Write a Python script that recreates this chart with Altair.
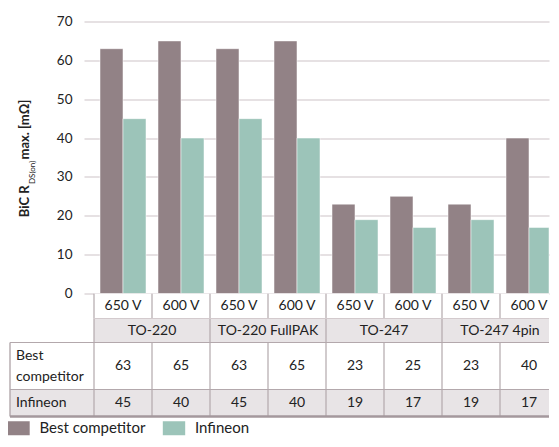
import altair as alt
import pandas as pd

# ---------------- data ----------------
packages = ["TO-220", "TO-220 FullPAK", "TO-247", "TO-247 4pin"]
voltages = ["650 V", "600 V"]
series = ["Best competitor", "Infineon"]
best_competitor = [63, 65, 63, 65, 23, 25, 23, 40]
infineon = [45, 40, 45, 40, 19, 17, 19, 17]
y_ticks = [0, 10, 20, 30, 40, 50, 60, 70]

# ---------------- style / layout ----------------
FONT = "Lato"
C_BEST = "#928286"
C_INF = "#9cc4b9"
GRID = "#e6e1e3"
LINE = "#b3a8ac"
LINE_LIGHT = "#d3cacd"
LINE_DARK = "#a4989d"
SHADE = "#e8e4e6"
TEXT = "#222222"

COL_PX = 58          # width of one table column in px
PLOT_W = 465
BAR_H = 272
TABLE_H = 125
X0_PX = 10           # first column starts 10px right of plot's left edge
x_dom = [-X0_PX / COL_PX, (PLOT_W - X0_PX) / COL_PX]
XMAX = x_dom[1]      # visible right edge (the last column is cut off here)
LBL = -84 / COL_PX   # left edge of the row-label column
BAR_W = 23 / COL_PX
LINE_H = 21
# table row edges (px from top of table panel)
R_VOLT = (0, 25)
R_PKG = (25, 49)
R_BEST = (49, 96)
R_INF = (96, 123)

n = len(best_competitor)
xs = alt.Scale(domain=x_dom, nice=False, zero=False)

# ---------------- bars ----------------
rows = []
for i in range(n):
    for s, vals in zip(series, [best_competitor, infineon]):
        start = i + 0.5 - BAR_W if s == series[0] else i + 0.5
        rows.append({"series": s, "value": vals[i], "x": start,
                     "x2": min(start + BAR_W, XMAX)})
bar_df = pd.DataFrame(rows)

bars = alt.Chart(bar_df).mark_bar(clip=True, stroke="#ffffff", strokeWidth=0.5).encode(
    x=alt.X("x:Q", scale=xs, axis=None),
    x2="x2:Q",
    y=alt.Y(
        "value:Q",
        scale=alt.Scale(domain=[0, 70], nice=False),
        axis=alt.Axis(values=y_ticks, title=None, ticks=False, domain=False,
                      gridColor=GRID, gridWidth=2, labelFont=FONT, labelFontSize=13.5,
                      labelColor=TEXT, labelPadding=12),
    ),
    y2=alt.datum(0),
    color=alt.Color(
        "series:N",
        scale=alt.Scale(domain=series, range=[C_BEST, C_INF]),
        legend=alt.Legend(
            title=None, orient="none", legendX=-73, legendY=399, direction="horizontal",
            symbolType="M-1.6,-1H1.6V1H-1.6Z", symbolSize=196, symbolStrokeWidth=0,
            labelFont=FONT, labelFontSize=15, labelColor=TEXT, labelOffset=13.5,
            columnPadding=16.5,
        ),
    ),
)

def title_part(txt, x, y, align, size, weight):
    return alt.Chart(pd.DataFrame({"t": [txt]})).mark_text(
        angle=270, align=align, baseline="middle", font=FONT, fontSize=size,
        fontWeight=weight, color=TEXT,
    ).encode(text="t:N", x=alt.value(x), y=alt.value(y))

t1 = title_part("BiC R", -59, 164, "right", 13, "bold")
t2 = title_part("DS(on)", -51.5, 162.5, "left", 8, "normal")
t3 = title_part("max. [mΩ]", -59, 138, "left", 13, "bold")

top = alt.layer(bars, t1, t2, t3).properties(width=PLOT_W, height=BAR_H)

# ---------------- table ----------------
cells = []
for i in range(n):
    cells.append({"x": i, "x2": i + 1, "y": R_VOLT[0], "y2": R_VOLT[1], "fill": "#ffffff",
                  "text": voltages[i % 2]})
for j, p in enumerate(packages):
    cells.append({"x": 2 * j, "x2": 2 * j + 2, "y": R_PKG[0], "y2": R_PKG[1], "fill": SHADE,
                  "text": p})
for i in range(n):
    cells.append({"x": i, "x2": i + 1, "y": R_BEST[0], "y2": R_BEST[1], "fill": "#ffffff",
                  "text": str(best_competitor[i])})
    cells.append({"x": i, "x2": i + 1, "y": R_INF[0], "y2": R_INF[1], "fill": SHADE,
                  "text": str(infineon[i])})
cell_df = pd.DataFrame(cells)
cell_df["xm"] = (cell_df["x"] + cell_df["x2"]) / 2
cell_df["ym"] = (cell_df["y"] + cell_df["y2"]) / 2
cell_df["x2"] = cell_df["x2"].clip(upper=XMAX)

lab_df = pd.DataFrame([
    {"x": LBL, "x2": 0, "y": R_BEST[0], "y2": R_BEST[1], "fill": "#ffffff",
     "text": "Best\ncompetitor", "lines": 2},
    {"x": LBL, "x2": 0, "y": R_INF[0], "y2": R_INF[1], "fill": SHADE, "text": series[1],
     "lines": 1},
])
lab_df["xt"] = LBL + 6 / COL_PX
lab_df["ym"] = (lab_df["y"] + lab_df["y2"]) / 2 - (lab_df["lines"] - 1) * LINE_H / 2

ys_t = alt.Scale(domain=[0, TABLE_H], reverse=True, nice=False, zero=False)

def rects(df, clip):
    return alt.Chart(df).mark_rect(clip=clip).encode(
        x=alt.X("x:Q", scale=xs, axis=None), x2="x2:Q",
        y=alt.Y("y:Q", scale=ys_t, axis=None), y2="y2:Q",
        color=alt.Color("fill:N", scale=None),
    )

cell_rect = rects(cell_df, True)
lab_rect = rects(lab_df, False)

cell_text = alt.Chart(cell_df).mark_text(
    clip=True, font=FONT, fontSize=14, color=TEXT, baseline="middle", align="center"
).encode(x=alt.X("xm:Q", scale=xs, axis=None), y=alt.Y("ym:Q", scale=ys_t, axis=None),
         text="text:N")
lab_text = alt.Chart(lab_df).mark_text(
    font=FONT, fontSize=14, color=TEXT, baseline="middle", align="left",
    lineBreak="\n", lineHeight=LINE_H,
).encode(x=alt.X("xt:Q", scale=xs, axis=None), y=alt.Y("ym:Q", scale=ys_t, axis=None),
         text="text:N")

# grid lines of the table (only the visible part, up to the cut-off edge)
lines = []
for b in range(n + 1):
    if b <= XMAX:
        lines.append({"x": b, "x2": b, "y": R_VOLT[0], "y2": R_VOLT[1], "c": LINE, "w": 1.2})
        lines.append({"x": b, "x2": b, "y": R_BEST[0], "y2": R_INF[1], "c": LINE, "w": 1.2})
for b in range(0, n + 1, 2):
    if b <= XMAX:
        lines.append({"x": b, "x2": b, "y": R_PKG[0], "y2": R_PKG[1], "c": LINE, "w": 1.2})
lines.append({"x": 0, "x2": XMAX, "y": R_PKG[0], "y2": R_PKG[0], "c": LINE_LIGHT, "w": 1})
lines.append({"x": 0, "x2": XMAX, "y": R_BEST[0], "y2": R_BEST[0], "c": LINE, "w": 1.2})
lines.append({"x": 0, "x2": XMAX, "y": R_INF[0], "y2": R_INF[0], "c": LINE, "w": 1.2})
lines.append({"x": 0, "x2": XMAX, "y": R_INF[1], "y2": R_INF[1], "c": LINE_DARK, "w": 2.6})
line_df = pd.DataFrame(lines)

lab_lines = pd.DataFrame([
    {"x": LBL, "x2": LBL, "y": R_BEST[0], "y2": R_INF[1], "c": LINE, "w": 1.4},
    {"x": LBL, "x2": 0, "y": R_BEST[0], "y2": R_BEST[0], "c": LINE, "w": 1.2},
    {"x": LBL, "x2": 0, "y": R_INF[0], "y2": R_INF[0], "c": LINE, "w": 1.2},
    {"x": LBL, "x2": 0, "y": R_INF[1], "y2": R_INF[1], "c": LINE_DARK, "w": 2.6},
])

def rules(df, clip):
    return alt.Chart(df).mark_rule(clip=clip).encode(
        x=alt.X("x:Q", scale=xs, axis=None), x2="x2:Q",
        y=alt.Y("y:Q", scale=ys_t, axis=None), y2="y2:Q",
        color=alt.Color("c:N", scale=None),
        strokeWidth=alt.StrokeWidth("w:Q", scale=None),
    )

table = alt.layer(
    cell_rect, lab_rect, rules(line_df, True), rules(lab_lines, False), cell_text, lab_text
).properties(width=PLOT_W, height=TABLE_H)

chart = alt.vconcat(top, table, spacing=0, bounds="flush").properties(
    padding={"left": 0, "top": 5.5, "right": 0, "bottom": 0}
).configure_view(stroke="transparent")

chart.save("out.html", embed_options={"renderer": "svg", "actions": False})
